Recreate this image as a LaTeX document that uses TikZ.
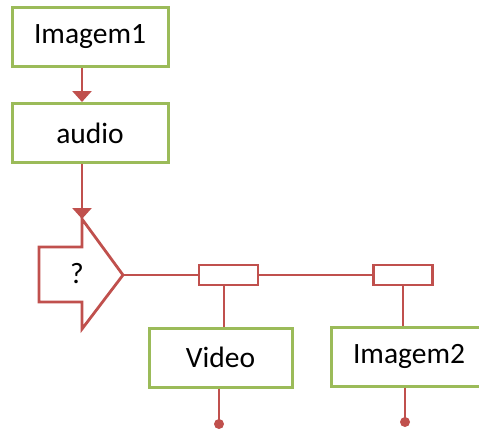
\documentclass[tikz,border=0pt]{standalone}
\usepackage{fontspec}
\setmainfont{Carlito}
\usetikzlibrary{arrows.meta,calc}
\definecolor{boxgreen}{HTML}{9BBB59}
\definecolor{linkred}{HTML}{C0504D}
\tikzset{
  box/.style={draw=boxgreen, line width=3pt, fill=white, inner sep=0pt,
    minimum width=156pt, minimum height=59pt, font=\fontsize{29.5}{33}\selectfont},
  tap/.style={draw=linkred, line width=2.8pt, fill=white, inner sep=0pt,
    minimum width=59pt, minimum height=20pt},
  link/.style={draw=linkred, line width=2.8pt},
  flow/.style={link, -{Triangle[width=19pt,length=11pt]}},
  enddot/.style={fill=linkred, draw=none},
}
\begin{document}
\begin{tikzpicture}[x=1pt,y=-1pt]
  \clip (0,0) rectangle (479,432);
  \useasboundingbox (0,0) rectangle (479,432);

  % processing chain
  \node[box] (img1)  at (90,37)  {Imagem1};
  \node[box] (audio) at (90,133) {audio};

  % decision arrow shape
  \coordinate (p1) at (39,247);
  \coordinate (p2) at (82,247);
  \coordinate (top) at (82,219);
  \coordinate (tip) at (123,275);
  \coordinate (bot) at (82,329);
  \coordinate (p3) at (82,302);
  \coordinate (p4) at (39,302);
  \draw[link, line join=miter] (p1) -- (p2) -- (top) -- (tip) -- (bot) -- (p3) -- (p4) -- cycle;
  \node[font=\fontsize{29.5}{33}\selectfont] (q) at (77,274) {?};

  % bus taps
  \node[tap] (t1) at (228.5,275) {};
  \node[tap] (t2) at (403,275) {};

  % outputs
  \node[box, minimum width=143pt] (video) at (220.5,357.5) {Video};
  \node[box] (img2) at (409,356.5) {Imagem2};

  \coordinate (v1) at (224,275);
  \coordinate (d1) at (219,424);
  \coordinate (d2) at (405,422);

  % connectors
  \draw[flow] (top |- img1.south) -- (top |- audio.north);
  \draw[flow] (top |- audio.south) -- (top);
  \draw[link] (tip) -- (t1.west);
  \draw[link] (t1.east) -- (t2.west);
  \draw[link] (v1 |- t1.south) -- (v1 |- video.north);
  \draw[link] (t2.south) -- (t2.south |- img2.north);
  \draw[link] (d1 |- video.south) -- (d1);
  \draw[link] (d2 |- img2.south) -- (d2);
  \fill[enddot] (d1) circle (5);
  \fill[enddot] (d2) circle (5);
\end{tikzpicture}
\end{document}
